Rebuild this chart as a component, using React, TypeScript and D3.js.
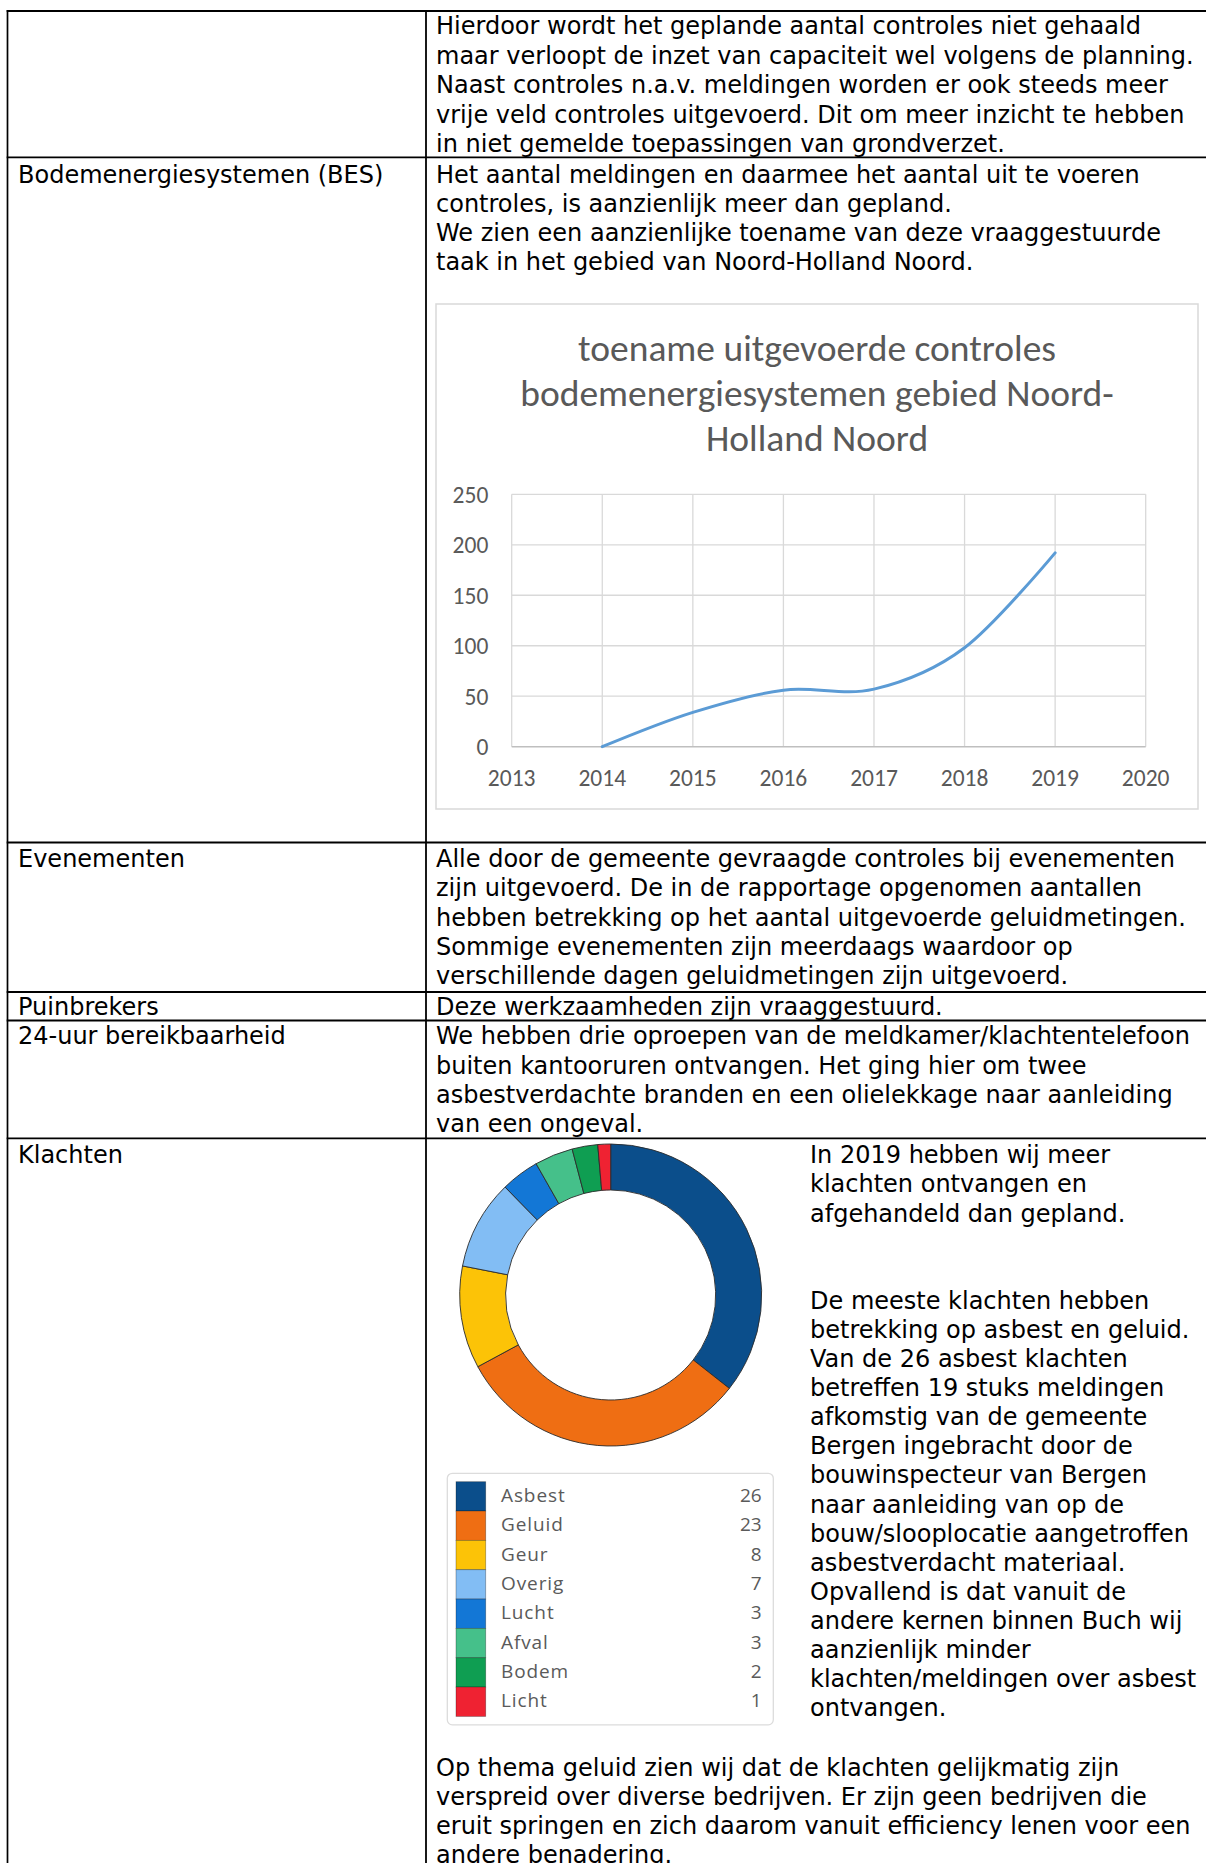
import * as d3 from 'd3';

// line chart data: controles bodemenergiesystemen
const years = [2014, 2015, 2016, 2017, 2018, 2019];
const controles = [0, 34, 56, 57, 98, 192];
const xTickLabels = ['2013', '2014', '2015', '2016', '2017', '2018', '2019', '2020'];
const yTickValues = [0, 50, 100, 150, 200, 250];
const chartTitle = [
  'toename uitgevoerde controles',
  'bodemenergiesystemen gebied Noord-',
  'Holland Noord',
];

// donut data: klachten per thema
const themes = ['Asbest', 'Geluid', 'Geur', 'Overig', 'Lucht', 'Afval', 'Bodem', 'Licht'];
const themeCounts = [26, 23, 8, 7, 3, 3, 2, 1];
const themeColors = ['#0b4e8b', '#ef6e13', '#fcc307', '#82bdf4', '#1377d6', '#45c08a', '#0f9e52', '#ef2232'];

// table text
const row1Text = [
  'Hierdoor wordt het geplande aantal controles niet gehaald',
  'maar verloopt de inzet van capaciteit wel volgens de planning.',
  'Naast controles n.a.v. meldingen worden er ook steeds meer',
  'vrije veld controles uitgevoerd. Dit om meer inzicht te hebben',
  'in niet gemelde toepassingen van grondverzet.',
];
const besText = [
  'Het aantal meldingen en daarmee het aantal uit te voeren',
  'controles, is aanzienlijk meer dan gepland.',
  'We zien een aanzienlijke toename van deze vraaggestuurde',
  'taak in het gebied van Noord-Holland Noord.',
];
const evenementenText = [
  'Alle door de gemeente gevraagde controles bij evenementen',
  'zijn uitgevoerd. De in de rapportage opgenomen aantallen',
  'hebben betrekking op het aantal uitgevoerde geluidmetingen.',
  'Sommige evenementen zijn meerdaags waardoor op',
  'verschillende dagen geluidmetingen zijn uitgevoerd.',
];
const puinText = ['Deze werkzaamheden zijn vraaggestuurd.'];
const bereikText = [
  'We hebben drie oproepen van de meldkamer/klachtentelefoon',
  'buiten kantooruren ontvangen. Het ging hier om twee',
  'asbestverdachte branden en een olielekkage naar aanleiding',
  'van een ongeval.',
];
const klachtenText = [
  'In 2019 hebben wij meer',
  'klachten ontvangen en',
  'afgehandeld dan gepland.',
  '',
  '',
  'De meeste klachten hebben',
  'betrekking op asbest en geluid.',
  'Van de 26 asbest klachten',
  'betreffen 19 stuks meldingen',
  'afkomstig van de gemeente',
  'Bergen ingebracht door de',
  'bouwinspecteur van Bergen',
  'naar aanleiding van op de',
  'bouw/slooplocatie aangetroffen',
  'asbestverdacht materiaal.',
  'Opvallend is dat vanuit de',
  'andere kernen binnen Buch wij',
  'aanzienlijk minder',
  'klachten/meldingen over asbest',
  'ontvangen.',
];
const geluidText = [
  'Op thema geluid zien wij dat de klachten gelijkmatig zijn',
  'verspreid over diverse bedrijven. Er zijn geen bedrijven die',
  'eruit springen en zich daarom vanuit efficiency lenen voor een',
  'andere benadering.',
];

const W = 1206;
const H = 1863;
const bodyFont = '"DejaVu Sans", Verdana, sans-serif';
const chartFont = 'Calibri, Carlito, Lato, sans-serif';

function Lines({ lines, x, y, step }: { lines: string[]; x: number; y: number; step: number }) {
  return (
    <g fontFamily={bodyFont} fontSize={24} fill="#000">
      {lines.map((t, i) => (
        <text key={i} x={x} y={y + i * step}>
          {t}
        </text>
      ))}
    </g>
  );
}

function LineChart() {
  const box = { x: 436, y: 304, w: 762, h: 505 };
  const x = d3.scaleLinear().domain([2013, 2020]).range([511.7, 1145.7]);
  const y = d3.scaleLinear().domain([0, 250]).range([746.7, 494.3]);
  const path = d3
    .line<number>()
    .x((_, i) => x(years[i]))
    .y((d) => y(d))
    .curve(d3.curveCatmullRom.alpha(0))(controles);
  const xTicks = xTickLabels.map(Number);

  return (
    <g fontFamily={chartFont} fill="#595959">
      <rect x={box.x} y={box.y} width={box.w} height={box.h} fill="#fff" stroke="#d9d9d9" strokeWidth={1.5} />
      {chartTitle.map((t, i) => (
        <text key={i} x={box.x + box.w / 2} y={361 + i * 45} textAnchor="middle" fontSize={37.5}>
          {t}
        </text>
      ))}
      {yTickValues.map((v) => (
        <g key={v}>
          {v > 0 && (
            <line x1={x(2013)} x2={x(2020)} y1={y(v)} y2={y(v)} stroke="#d9d9d9" strokeWidth={1.3} />
          )}
          <text x={488.3} y={y(v) + 8.3} textAnchor="end" fontSize={23.5}>
            {v}
          </text>
        </g>
      ))}
      {xTicks.map((v, i) => (
        <g key={v}>
          <line x1={x(v)} x2={x(v)} y1={y(250)} y2={y(0)} stroke="#d9d9d9" strokeWidth={1.3} />
          <text x={x(v)} y={786} textAnchor="middle" fontSize={23.5}>
            {xTickLabels[i]}
          </text>
        </g>
      ))}
      <line x1={x(2013)} x2={x(2020)} y1={y(0)} y2={y(0)} stroke="#bfbfbf" strokeWidth={1.5} />
      <path d={path ?? ''} fill="none" stroke="#5b9bd5" strokeWidth={3} strokeLinecap="round" />
    </g>
  );
}

function Donut() {
  const cx = 610.7;
  const cy = 1295;
  const pie = d3.pie<number>().sort(null).value((d) => d)(themeCounts);
  const arc = d3.arc<d3.PieArcDatum<number>>().innerRadius(105).outerRadius(151);
  const rows = d3.scaleBand<string>().domain(themes).range([1481.7, 1716.4]);

  return (
    <g>
      <g transform={`translate(${cx},${cy})`}>
        {pie.map((p, i) => (
          <path key={i} d={arc(p) ?? ''} fill={themeColors[i]} stroke="#2b2b2b" strokeWidth={0.9} />
        ))}
      </g>
      <rect x={447.3} y={1473.3} width={326} height={251.5} rx={5} fill="#fff" stroke="#dcdcdc" strokeWidth={1.3} />
      <g fontFamily='"Open Sans", sans-serif' fontSize={19} fill="#5a5a5a" letterSpacing={0.9}>
        {themes.map((t, i) => (
          <g key={t}>
            <rect
              x={456}
              y={rows(t)}
              width={29.7}
              height={rows.bandwidth()}
              fill={themeColors[i]}
              stroke="rgba(0,0,0,0.35)"
              strokeWidth={0.8}
            />
            <text x={501} y={(rows(t) ?? 0) + rows.bandwidth() / 2 + 5.5}>
              {t}
            </text>
            <text x={761.7} y={(rows(t) ?? 0) + rows.bandwidth() / 2 + 5.5} textAnchor="end" letterSpacing={0}>
              {themeCounts[i]}
            </text>
          </g>
        ))}
      </g>
    </g>
  );
}

export default function App() {
  const rowLines = [11, 157.3, 842.5, 992, 1020.5, 1138.3];
  return (
    <svg
      width={W}
      height={H}
      style={{ position: 'absolute', left: 0, top: 0, display: 'block', background: '#fff' }}
    >
      <rect width={W} height={H} fill="#fff" />
      {rowLines.map((ly) => (
        <line key={ly} x1={6.7} x2={W} y1={ly} y2={ly} stroke="#000" strokeWidth={1.8} />
      ))}
      <line x1={7.5} x2={7.5} y1={10.1} y2={H} stroke="#000" strokeWidth={1.7} />
      <line x1={426} x2={426} y1={10.1} y2={H} stroke="#000" strokeWidth={1.8} />

      <Lines lines={row1Text} x={436} y={34.4} step={29.4} />

      <Lines lines={['Bodemenergiesystemen (BES)']} x={18} y={183} step={0} />
      <Lines lines={besText} x={436} y={183} step={29} />
      <LineChart />

      <Lines lines={['Evenementen']} x={18} y={867.3} step={0} />
      <Lines lines={evenementenText} x={436} y={867.3} step={29.1} />

      <Lines lines={['Puinbrekers']} x={18} y={1014.6} step={0} />
      <Lines lines={puinText} x={436} y={1014.6} step={0} />

      <Lines lines={['24-uur bereikbaarheid']} x={18} y={1044.3} step={0} />
      <Lines lines={bereikText} x={436} y={1044.3} step={29.3} />

      <Lines lines={['Klachten']} x={18} y={1163.3} step={0} />
      <Donut />
      <Lines lines={klachtenText} x={810} y={1163.3} step={29.1} />
      <Lines lines={geluidText} x={436} y={1776} step={29.1} />
    </svg>
  );
}
